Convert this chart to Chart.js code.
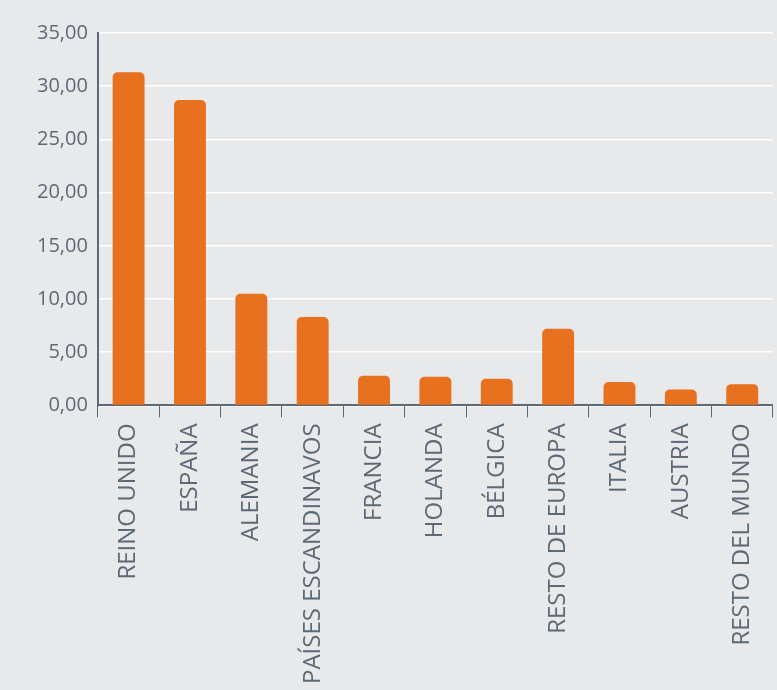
<!DOCTYPE html>
<html><head><meta charset="utf-8">
<script src="https://cdn.jsdelivr.net/npm/chart.js@4"></script>
<style>
html,body{margin:0;padding:0;background:#e8e9eb;}
#wrap{width:777px;height:690px;}
</style></head>
<body><div id="wrap"><canvas id="c"></canvas></div>
<script>
"use strict";

const countries = ["REINO UNIDO", "ESPAÑA", "ALEMANIA", "PAÍSES ESCANDINAVOS", "FRANCIA", "HOLANDA", "BÉLGICA", "RESTO DE EUROPA", "ITALIA", "AUSTRIA", "RESTO DEL MUNDO"];
const shares = [31.3, 28.7, 10.5, 8.3, 2.8, 2.7, 2.5, 7.2, 2.2, 1.5, 2.0];

new Chart(document.getElementById("c"), {
  type: "bar",
  data: {
    labels: countries,
    datasets: [{
      data: shares,
      backgroundColor: "#e8711f",
      borderRadius: { topLeft: 5, topRight: 5 },
      borderSkipped: "bottom",
      barPercentage: 0.52,
      categoryPercentage: 1
    }]
  },
  options: {
    responsive: true,
    maintainAspectRatio: false,
    animation: false,
    layout: { padding: { top: 33, right: 0, left: 27, bottom: 0 } },
    plugins: { legend: { display: false }, tooltip: { enabled: false } },
    scales: {
      y: {
        min: 0, max: 35,
        ticks: {
          stepSize: 5,
          color: "#5d6a75",
          padding: 10,
          font: { family: "Open Sans", size: 20 },
          callback: v => v.toFixed(2).replace(".", ",")
        },
        grid: { color: "#ffffff", lineWidth: 1.5, drawTicks: false },
        border: { color: "#5d6a75", width: 2 }
      },
      x: {
        ticks: {
          minRotation: 90, maxRotation: 90,
          color: "#5d6a75",
          padding: 6,
          font: { family: "Open Sans", size: 24 }
        },
        grid: { display: true, drawOnChartArea: false, offset: true, tickLength: 12, color: "#5d6a75" },
        border: { color: "#5d6a75", width: 2 }
      }
    }
  }
});
</script></body></html>
